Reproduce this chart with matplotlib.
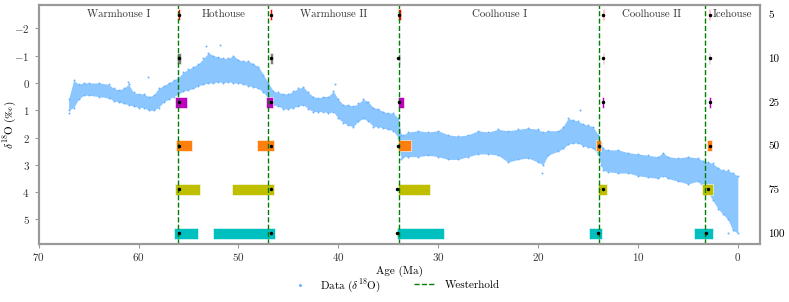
import matplotlib
matplotlib.use('Agg')
import matplotlib.pyplot as plt
import numpy as np

plt.rcParams['font.family'] = ['cmr10', 'DejaVu Serif']
plt.rcParams['mathtext.fontset'] = 'cm'
plt.rcParams['axes.formatter.use_mathtext'] = True
plt.rcParams['font.size'] = 8

# d18O cloud: age (Ma), lower / upper edge of the point cloud
age = [67.0, 66.5, 66.0, 65.5, 65.0, 64.0, 63.0, 62.5, 62.0, 61.5, 61.0, 60.5, 60.0, 59.5,
       59.0, 58.5, 58.0, 57.5, 57.0, 56.5, 56.0, 55.5, 55.0, 54.5, 54.0, 53.5, 53.0, 52.5,
       52.0, 51.5, 51.0, 50.5, 50.0, 49.5, 49.0, 48.5, 48.0, 47.5, 47.0, 46.5, 46.0, 45.5,
       45.0, 44.5, 44.0, 43.5, 43.0, 42.5, 42.0, 41.5, 41.0, 40.5, 40.0, 39.5, 39.0, 38.5,
       38.0, 37.5, 37.0, 36.5, 36.0, 35.5, 35.0, 34.5, 34.0, 33.7, 33.5, 33.0, 32.0, 31.0,
       30.0, 29.0, 28.0, 27.0, 26.0, 25.0, 24.0, 23.0, 22.0, 21.0, 20.0, 19.5, 19.0, 18.0,
       17.5, 17.0, 16.5, 16.0, 15.5, 15.0, 14.5, 14.0, 13.7, 13.5, 13.0, 12.0, 11.0, 10.0,
       9.0, 8.0, 7.5, 7.0, 6.0, 5.0, 4.0, 3.5, 3.0, 2.5, 2.0, 1.5, 1.0, 0.5, 0.0]
d18o_lo = [0.6, -0.1, 0.05, 0.0, 0.0, 0.0, 0.05, 0.2, 0.25, 0.2, 0.05, 0.35, 0.4, 0.4,
           0.5, 0.45, 0.2, 0.1, 0.0, -0.1, -0.2, -0.4, -0.5, -0.6, -0.7, -0.9, -1.1, -1.0,
           -0.95, -0.9, -0.9, -1.0, -0.85, -0.8, -0.8, -0.7, -0.6, -0.3, 0.0, 0.3, 0.35, 0.4,
           0.4, 0.3, 0.2, 0.15, 0.35, 0.5, 0.55, 0.5, 0.5, 0.3, 0.6, 0.8, 0.8, 0.85,
           0.75, 0.6, 0.7, 0.9, 0.95, 1.05, 1.1, 1.1, 1.3, 1.9, 1.9, 1.8, 1.75, 1.8,
           1.75, 1.9, 1.95, 1.9, 1.75, 1.8, 1.7, 1.75, 1.7, 1.65, 1.7, 1.8, 1.75, 1.75,
           1.6, 1.3, 1.35, 1.4, 1.5, 1.55, 1.6, 1.9, 2.2, 2.4, 2.45, 2.45, 2.55, 2.6,
           2.65, 2.7, 2.55, 2.7, 2.75, 2.7, 2.75, 2.85, 2.9, 2.95, 3.1, 3.2, 3.2, 3.3, 3.4]
d18o_hi = [1.0, 0.9, 0.6, 0.45, 0.45, 0.5, 0.55, 0.65, 0.7, 0.75, 0.8, 0.85, 0.9, 0.9,
           1.0, 1.0, 0.9, 0.7, 0.6, 0.5, 0.4, 0.3, 0.25, 0.2, 0.1, 0.05, 0.0, 0.0,
           -0.05, 0.0, -0.05, 0.0, 0.0, 0.05, 0.1, 0.15, 0.2, 0.35, 0.55, 0.8, 0.85, 0.95,
           0.95, 0.9, 0.85, 0.8, 0.95, 1.05, 1.05, 1.05, 1.1, 1.05, 1.3, 1.45, 1.55, 1.6,
           1.4, 1.3, 1.4, 1.6, 1.6, 1.65, 1.7, 1.75, 2.0, 2.8, 2.7, 2.7, 2.7, 2.65,
           2.7, 2.8, 2.8, 2.7, 2.6, 2.6, 2.65, 2.9, 2.8, 2.75, 2.9, 3.0, 2.65, 2.5,
           2.4, 2.25, 2.2, 2.2, 2.3, 2.35, 2.4, 2.6, 3.0, 3.2, 3.25, 3.3, 3.3, 3.4,
           3.45, 3.5, 3.4, 3.5, 3.6, 3.7, 3.6, 3.8, 4.0, 4.3, 4.6, 4.8, 5.0, 5.4, 5.5]
# isolated points standing out of the cloud
out_age = [67.0, 61.1, 59.1, 53.2, 51.8, 40.3, 37.1, 19.6, 15.8, 1.0]
out_d18o = [1.1, -0.05, -0.2, -1.35, -1.4, 0.05, 0.7, 3.3, 1.0, 5.5]

# change points and their intervals for each window size (rows)
windows = [5, 10, 25, 50, 75, 100]
westerhold = [56.0, 47.0, 33.9, 13.9, 3.3]
cp_age = [[55.9, 46.7, 33.95, 13.45, 2.8],
          [55.9, 46.7, 34.05, 13.45, 2.8],
          [55.9, 46.7, 33.9, 13.45, 2.8],
          [55.95, 46.7, 34.0, 13.9, 2.8],
          [55.95, 46.7, 34.1, 13.5, 3.0],
          [55.95, 46.7, 34.1, 13.95, 3.15]]
ci_old = [[56.05, 46.8, 34.0, 13.5, 2.85],
          [56.15, 46.85, 33.95, 13.5, 2.85],
          [56.3, 47.25, 34.05, 13.6, 2.9],
          [56.2, 48.1, 34.05, 14.2, 3.05],
          [56.3, 50.6, 34.05, 13.95, 3.55],
          [56.45, 52.5, 34.15, 14.95, 4.4]]
ci_young = [[55.8, 46.6, 33.75, 13.4, 2.75],
            [55.75, 46.55, 33.8, 13.4, 2.75],
            [55.1, 46.5, 33.45, 13.35, 2.65],
            [54.6, 46.4, 32.75, 13.65, 2.55],
            [53.8, 46.4, 30.85, 13.1, 2.48],
            [54.0, 46.3, 29.4, 13.55, 2.48]]
row_colors = ['red', 'gray', 'm', 'tab:orange', 'y', 'c']
row_pos = [-2.5, -0.9, 0.7, 2.3, 3.9, 5.5]

periods = ['Warmhouse I', 'Hothouse', 'Warmhouse II', 'Coolhouse I', 'Coolhouse II', 'Icehouse']
period_mid = [62.0, 51.5, 40.45, 23.9, 8.6, 0.55]

blue = '#66b3ff'
fig, ax = plt.subplots(figsize=(7.89, 3.02), dpi=100)
fig.subplots_adjust(left=0.049, right=0.963, top=0.983, bottom=0.192)

ax.fill_between(age, d18o_lo, d18o_hi, color=blue, alpha=0.75, linewidth=0)
ax.scatter(age + age + out_age, d18o_lo + d18o_hi + out_d18o, s=2, color=blue,
           linewidths=0, label=r'Data ($\delta^{18}$O)')

for i, w in enumerate(windows):
    for k in range(len(westerhold)):
        ax.barh(row_pos[i], ci_young[i][k] - ci_old[i][k], left=ci_old[i][k], height=0.4,
                color=row_colors[i], edgecolor='white', linewidth=0.4, zorder=3)
    ax.plot(cp_age[i], [row_pos[i]] * len(cp_age[i]), 'k.', ms=3, zorder=5)

for k, b in enumerate(westerhold):
    ax.axvline(b, color='green', ls='--', lw=1, zorder=4,
               label='Westerhold' if k == 0 else None)

for p, m in zip(periods, period_mid):
    ax.text(m, -2.5, p, ha='center', va='center', fontsize=7.8, color='#333333')

ax.set_xlim(70, -2.2)
ax.set_ylim(5.9, -2.85)
ax.set_yticks([-2, -1, 0, 1, 2, 3, 4, 5])
ax.set_xlabel('Age (Ma)', labelpad=2)
ax.set_ylabel('$\\delta^{18}\\mathrm{O}\\ (\u2030)$')
ax.yaxis.set_label_coords(-0.028, 0.5)

ax2 = ax.twinx()
ax2.set_ylim(5.9, -2.85)
ax2.set_yticks(row_pos)
ax2.set_yticklabels([str(w) for w in windows])
ax2.tick_params(axis='y', length=0, pad=6)

for a in (ax, ax2):
    for s in a.spines.values():
        s.set_color('#999999')
        s.set_linewidth(1.5)
ax.tick_params(colors='#999999', labelcolor='#333333', length=3)
ax.tick_params(axis='x', pad=2)

h1, l1 = ax.get_legend_handles_labels()
fig.legend(h1, l1, loc='center', bbox_to_anchor=(0.5, 0.056), ncol=2, frameon=False,
           markerscale=1.5, columnspacing=3)

plt.savefig('out.png', dpi=100)
